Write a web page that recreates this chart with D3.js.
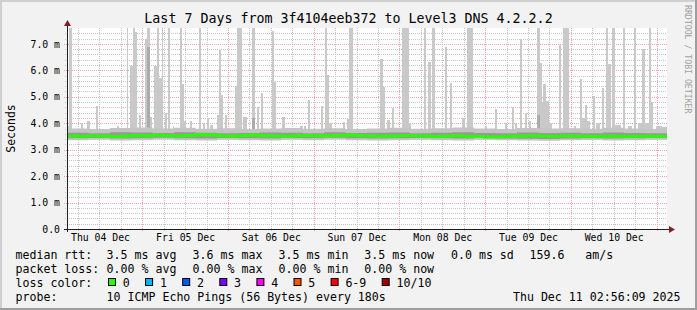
<!DOCTYPE html>
<html>
<head>
<meta charset="utf-8">
<script src="https://cdn.jsdelivr.net/npm/d3@7"></script>
<style>
  html, body { margin: 0; padding: 0; background: #f2f2f2; }
  svg { display: block; font-family: "DejaVu Sans Mono", monospace; }
</style>
</head>
<body>
<svg id="chart" width="697" height="310"></svg>
<script>
// Smokeping "last 7 days" graph
const title = "Last 7 Days from 3f4104eeb372 to Level3 DNS 4.2.2.2";
const endTime = Date.UTC(2025, 11, 11, 2, 56, 9);
const spanHours = 168;

// max ping spikes: start / end in hours after graph start, top in ms
const spikeStart = [0.0,0.6,3.8,5.7,8.1,14.1,16.7,17.6,18.4,19.0,
  20.2,21.8,22.4,23.2,24.4,25.1,25.8,26.5,27.4,28.4,
  29.6,31.6,32.2,32.8,34.4,37.0,38.1,39.2,40.0,41.9,
  42.6,43.0,44.3,47.0,47.5,49.3,51.8,53.1,54.2,57.3,
  58.0,60.1,65.2,66.4,67.6,71.0,72.2,72.8,73.4,77.2,
  78.5,78.9,82.9,87.6,88.4,89.7,91.0,93.7,95.8,99.9,
  101.2,102.2,105.8,107.2,110.7,111.9,112.1,117.0,119.7,122.5,
  124.6,125.4,126.8,128.3,129.4,131.6,132.4,132.9,133.4,134.1,
  134.9,137.8,138.8,142.0,143.6,144.3,144.9,145.5,147.2,148.1,
  149.8,150.9,151.5,152.6,153.4,155.6,157.1,158.8,159.9,161.0,
  161.8,162.9,163.6,164.9,166.6];
const spikeEnd = [0.6,1.4,4.4,6.4,8.7,14.6,17.1,18.4,19.0,19.5,
  20.6,22.4,23.2,23.8,25.1,25.8,26.5,27.0,27.9,28.8,
  30.0,32.2,32.8,33.2,34.9,37.6,38.6,39.8,40.9,42.6,
  43.0,43.8,44.9,47.5,49.0,50.3,52.7,53.7,55.0,58.0,
  58.5,61.0,66.1,66.9,68.1,71.6,72.8,73.4,74.1,77.8,
  78.9,80.0,83.9,88.4,89.0,90.3,91.6,95.8,96.3,100.5,
  101.8,102.9,106.4,107.8,111.3,112.1,113.6,117.5,120.3,123.3,
  125.2,125.9,127.4,128.9,129.9,132.4,132.9,133.4,134.1,134.9,
  135.8,138.3,140.6,142.5,144.3,144.9,145.5,146.4,147.7,149.2,
  150.4,151.5,152.2,153.3,155.1,156.1,158.2,159.3,161.0,161.8,
  162.9,163.6,164.2,166.6,168.0];
const spikeMax = [3.9,8.5,4.0,4.1,4.66,3.9,8.5,6.18,8.5,7.45,
  4.3,7.2,8.5,4.25,6.15,8.5,5.7,8.5,4.4,8.5,
  3.9,8.5,5.5,4.1,4.1,8.5,4.0,4.2,3.95,4.3,
  6.77,5.05,4.3,5.4,8.5,4.25,8.5,4.62,5.15,7.47,
  5.57,4.22,3.9,3.9,4.86,4.65,8.5,5.82,4.0,4.05,
  4.15,8.5,3.8,6.42,5.38,4.12,4.59,8.5,4.0,8.5,
  6.33,8.5,6.9,5.53,4.2,6.9,8.5,3.9,4.55,4.0,
  4.6,4.0,7.18,4.4,4.1,8.5,6.27,4.8,5.49,4.83,
  4.0,6.94,8.5,3.9,5.68,4.2,4.67,4.1,5.04,4.0,
  5.33,8.5,6.24,8.5,3.95,8.5,3.9,8.5,4.0,6.79,
  4.0,8.5,4.8,3.9,3.85];

// darker smoke inside a few spikes
const darkStart = [22.4, 51.8, 131.6];
const darkEnd = [23.2, 52.7, 132.4];
const darkMax = [6.9, 4.2, 4.3];

// smoke around the median, 6 hour bins
const smokeHi = [3.80,3.78,3.82,3.84,3.80,3.83,3.79,3.81,3.78,3.80,3.82,3.79,3.81,3.78,
  3.80,3.83,3.79,3.81,3.84,3.80,3.78,3.82,3.80,3.81,3.79,3.83,3.80,3.78];
const smokeLo = [3.36,3.37,3.35,3.36,3.38,3.36,3.35,3.37,3.36,3.35,3.37,3.36,3.38,3.36,
  3.35,3.36,3.37,3.36,3.35,3.37,3.36,3.35,3.34,3.36,3.37,3.35,3.36,3.37];
const coreHi = [3.64,3.62,3.66,3.65,3.63,3.66,3.64,3.62,3.63,3.65,3.64,3.62,3.66,3.63,
  3.64,3.65,3.62,3.64,3.66,3.63,3.62,3.65,3.63,3.64,3.62,3.65,3.63,3.62];
const coreLo = [3.43,3.44,3.42,3.43,3.45,3.43,3.42,3.44,3.43,3.42,3.44,3.43,3.45,3.43,
  3.42,3.43,3.44,3.43,3.42,3.44,3.42,3.41,3.40,3.42,3.43,3.42,3.43,3.44];

// median rtt, 3 hour bins
const medianRtt = [3.52,3.51,3.53,3.52,3.50,3.52,3.54,3.53,3.55,3.53,3.52,3.54,3.56,3.55,
  3.53,3.52,3.54,3.55,3.53,3.52,3.51,3.53,3.54,3.52,3.53,3.54,3.55,3.53,
  3.52,3.51,3.52,3.54,3.53,3.52,3.50,3.52,3.53,3.51,3.50,3.48,3.49,3.51,
  3.52,3.53,3.52,3.51,3.53,3.52,3.51,3.50,3.52,3.51,3.50,3.52,3.51,3.50];

const yTicks = [0, 1, 2, 3, 4, 5, 6, 7];
const rttStats = ["3.5 ms avg", "3.6 ms max", "3.5 ms min", "3.5 ms now", "0.0 ms sd", "159.6", "am/s"];
const lossStats = ["0.00 % avg", "0.00 % max", "0.00 % min", "0.00 % now"];
const lossLabels = ["0", "1", "2", "3", "4", "5", "6-9", "10/10"];
const lossColors = ["#26ff00", "#00b8ff", "#0059ff", "#7e00ff", "#ff00ff", "#ff5500", "#ff0000", "#a10000"];
const probeText = "10 ICMP Echo Pings (56 Bytes) every 180s";
const stampText = "Thu Dec 11 02:56:09 2025";

const W = 697, H = 310;
const x0 = 67, x1 = 667, yTop = 28, yBot = 229;
const t0 = endTime - spanHours * 3600e3;
const hr = h => new Date(t0 + h * 3600e3);

const x = d3.scaleUtc().domain([t0, endTime]).range([x0, x1]);
const y = d3.scaleLinear().domain([0, 7.6]).range([yBot, yTop]);

const svg = d3.select("#chart");

// background + 3d border
svg.append("rect").attr("width", W).attr("height", H).attr("fill", "#f2f2f2");
svg.append("path").attr("d", `M1,${H} V1 H${W}`).attr("stroke", "#cfcfcf").attr("stroke-width", 2).attr("fill", "none");
svg.append("path").attr("d", `M0,${H - 1} H${W - 1} V0`).attr("stroke", "#9e9e9e").attr("stroke-width", 2).attr("fill", "none");

svg.append("rect").attr("x", x0).attr("y", yTop).attr("width", x1 - x0).attr("height", yBot - yTop).attr("fill", "#fff");

// grid first, the smoke covers it (dotted like rrdtool)
const grid = svg.append("g").attr("shape-rendering", "crispEdges").attr("stroke-dasharray", "1,1");
const minorY = d3.range(1, 38).filter(i => i % 5 !== 0).map(i => i / 5);
grid.selectAll(".hmin").data(minorY).enter().append("line")
  .attr("x1", x0 - 2).attr("x2", x1)
  .attr("y1", d => Math.round(y(d)) + 0.5).attr("y2", d => Math.round(y(d)) + 0.5)
  .attr("stroke", "#c6c6c6");
const hours6 = x.ticks(d3.utcHour.every(6));
grid.selectAll(".vmin").data(hours6.filter(d => d.getUTCHours() !== 0)).enter().append("line")
  .attr("x1", d => Math.round(x(d)) + 0.5).attr("x2", d => Math.round(x(d)) + 0.5)
  .attr("y1", yTop).attr("y2", yBot + 2)
  .attr("stroke", "#c6c6c6");
grid.selectAll(".hmaj").data(yTicks.slice(1)).enter().append("line")
  .attr("x1", x0 - 3).attr("x2", x1)
  .attr("y1", d => Math.round(y(d)) + 0.5).attr("y2", d => Math.round(y(d)) + 0.5)
  .attr("stroke", "#efa3a3");
grid.selectAll(".vmaj").data(hours6.filter(d => d.getUTCHours() === 0)).enter().append("line")
  .attr("x1", d => Math.round(x(d)) + 0.5).attr("x2", d => Math.round(x(d)) + 0.5)
  .attr("y1", yTop).attr("y2", yBot + 3)
  .attr("stroke", "#efa3a3");

svg.append("clipPath").attr("id", "plotClip")
  .append("rect").attr("x", x0).attr("y", yTop).attr("width", x1 - x0).attr("height", yBot - yTop);

const plot = svg.append("g").attr("clip-path", "url(#plotClip)");

// light grey spikes (max ping)
plot.selectAll(".spike")
  .data(spikeStart.map((s, i) => ({ s, e: spikeEnd[i], v: spikeMax[i] })))
  .enter().append("rect")
  .attr("class", "spike")
  .attr("x", d => x(hr(d.s)))
  .attr("width", d => x(hr(d.e)) - x(hr(d.s)))
  .attr("y", d => y(d.v))
  .attr("height", d => y(3.5) - y(d.v))
  .attr("fill", "#c9c9c9")
  .attr("shape-rendering", "crispEdges");

plot.selectAll(".dark")
  .data(darkStart.map((s, i) => ({ s, e: darkEnd[i], v: darkMax[i] })))
  .enter().append("rect")
  .attr("class", "dark")
  .attr("x", d => x(hr(d.s)))
  .attr("width", d => x(hr(d.e)) - x(hr(d.s)))
  .attr("y", d => y(d.v))
  .attr("height", d => y(3.5) - y(d.v))
  .attr("fill", "#ababab")
  .attr("shape-rendering", "crispEdges");

// smoke band round the median
function binned(hi, lo, hours) {
  const pts = hi.map((h, i) => ({ t: hr(i * hours), hi: h, lo: lo[i] }));
  pts.push({ t: hr(hi.length * hours), hi: hi[hi.length - 1], lo: lo[lo.length - 1] });
  return pts;
}
const band = d3.area().curve(d3.curveStepAfter)
  .x(d => x(d.t)).y0(d => y(d.lo)).y1(d => y(d.hi));

plot.append("path").datum(binned(smokeHi, smokeLo, 6)).attr("d", band).attr("fill", "#c4c4c4");
plot.append("path").datum(binned(coreHi, coreLo, 6)).attr("d", band).attr("fill", "#999");

const medPts = medianRtt.map((v, i) => ({ t: hr(i * 3), v }));
medPts.push({ t: hr(168), v: medianRtt[medianRtt.length - 1] });
plot.append("path").datum(medPts)
  .attr("fill", "none")
  .attr("stroke", lossColors[0])
  .attr("stroke-width", 3)
  .attr("d", d3.line().curve(d3.curveStepAfter).x(d => x(d.t)).y(d => y(d.v)));

// axes
const yAxis = svg.append("g")
  .attr("transform", `translate(${x0},0)`)
  .call(d3.axisLeft(y).tickValues(yTicks).tickSize(0).tickPadding(7)
    .tickFormat(d => d === 0 ? "0.0" : d.toFixed(1) + " m"));
yAxis.select(".domain").remove();
yAxis.selectAll("text").attr("font-size", "9.8px").attr("font-family", "DejaVu Sans Mono").attr("fill", "#000");

const noons = d3.utcDay.range(d3.utcDay.floor(hr(0)), hr(168))
  .map(d => d3.utcHour.offset(d, 12))
  .filter(d => d > hr(0) && d < hr(168));
const xAxis = svg.append("g")
  .attr("transform", `translate(0,${yBot})`)
  .call(d3.axisBottom(x).tickValues(noons).tickSize(0).tickPadding(5).tickFormat(d3.utcFormat("%a %d %b")));
xAxis.select(".domain").remove();
xAxis.selectAll("text").attr("font-size", "9.8px").attr("font-family", "DejaVu Sans Mono").attr("fill", "#000");
// keep the first label inside the plot, like rrdtool does
xAxis.selectAll(".tick").each(function (d) {
  const half = 30;
  if (x(d) - half < x0 + 3) d3.select(this).select("text").attr("x", x0 + 3 + half - x(d));
});

svg.append("line").attr("x1", x0 - 3).attr("x2", x1 + 3).attr("y1", yBot + 0.5).attr("y2", yBot + 0.5)
  .attr("stroke", "#1f1f1f").attr("shape-rendering", "crispEdges");
svg.append("line").attr("x1", x0 + 0.5).attr("x2", x0 + 0.5).attr("y1", yBot + 3).attr("y2", yTop - 3)
  .attr("stroke", "#1f1f1f").attr("shape-rendering", "crispEdges");
svg.append("path").attr("d", `M${x0 - 3},${yTop - 2} L${x0 + 4},${yTop - 2} L${x0 + 0.5},${yTop - 8} Z`).attr("fill", "#801f1f");
svg.append("path").attr("d", `M${x1 + 2},${yBot - 3} L${x1 + 2},${yBot + 4} L${x1 + 8},${yBot + 0.5} Z`).attr("fill", "#801f1f");

// title and side labels
svg.append("text").attr("x", W / 2).attr("y", 23).attr("text-anchor", "middle")
  .attr("font-size", "13.3px").text(title);
svg.append("text").attr("transform", `translate(15,${(yTop + yBot) / 2}) rotate(-90)`)
  .attr("text-anchor", "middle").attr("font-size", "11.5px").text("Seconds");
svg.append("text").attr("transform", "translate(685,5) rotate(90)")
  .attr("font-size", "8.2px").attr("fill", "#a0a0a0").text("RRDTOOL / TOBI OETIKER");

// legend
const legend = svg.append("g").attr("font-size", "11.6px").attr("fill", "#000");
const col = [106.6, 192.6, 278.6, 364.3, 451, 529.6, 585.3];
const rows = [258.5, 272.5, 286.5, 300.5];
legend.append("text").attr("x", 15.5).attr("y", rows[0]).text("median rtt:");
rttStats.forEach((s, i) => legend.append("text").attr("x", col[i]).attr("y", rows[0]).text(s));
legend.append("text").attr("x", 15.5).attr("y", rows[1]).text("packet loss:");
lossStats.forEach((s, i) => legend.append("text").attr("x", col[i]).attr("y", rows[1]).text(s));
legend.append("text").attr("x", 15.5).attr("y", rows[2]).text("loss color:");
let cx = 108.5;
lossLabels.forEach((lab, i) => {
  legend.append("rect").attr("x", cx).attr("y", 278.5).attr("width", 7).attr("height", 7)
    .attr("fill", lossColors[i]).attr("stroke", "#000").attr("stroke-width", 1);
  legend.append("text").attr("x", cx + 14.3).attr("y", rows[2]).text(lab);
  cx += 14.3 + lab.length * 7 + 15.8;
});
legend.append("text").attr("x", 15.5).attr("y", rows[3]).text("probe:");
legend.append("text").attr("x", col[0]).attr("y", rows[3]).text(probeText);
legend.append("text").attr("x", 680.5).attr("y", rows[3]).attr("text-anchor", "end").text(stampText);
</script>
</body>
</html>
